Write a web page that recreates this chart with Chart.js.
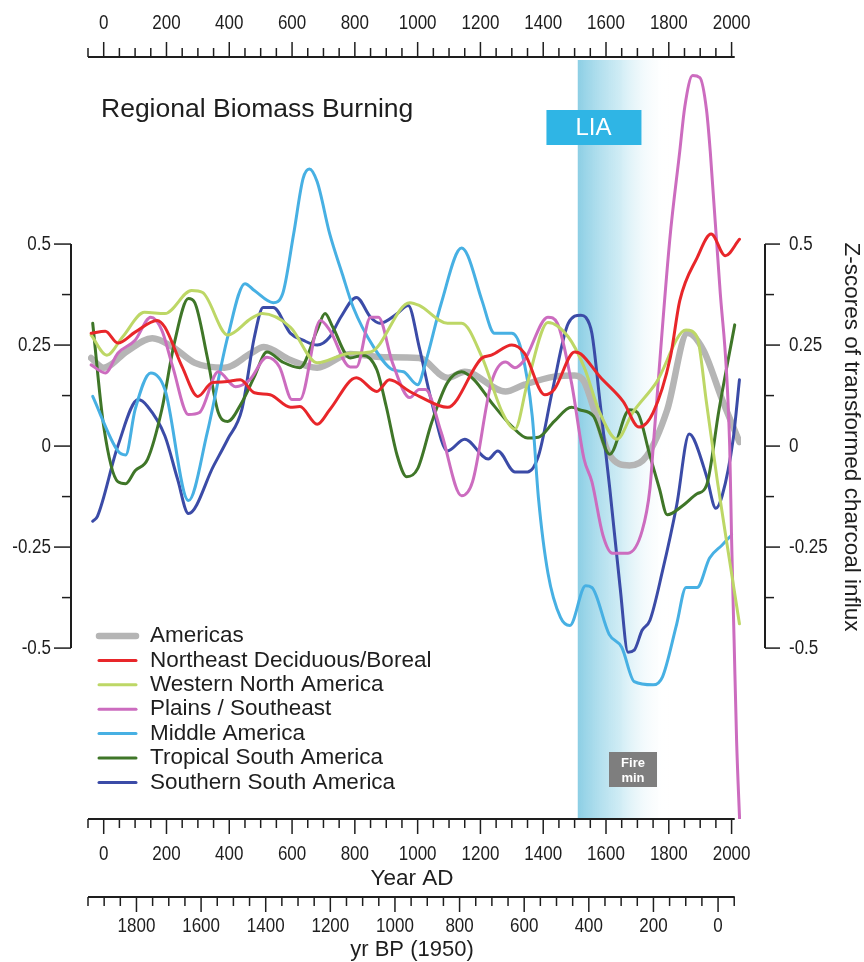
<!DOCTYPE html>
<html>
<head>
<meta charset="utf-8">
<title>Regional Biomass Burning</title>
<script src="https://cdn.jsdelivr.net/npm/chart.js@4.4.1/dist/chart.umd.min.js"></script>
<style>
  html, body { margin: 0; padding: 0; background: #fff; }
  #chart-box { position: relative; width: 864px; height: 962px; }
</style>
</head>
<body>
<div id="chart-box"><canvas id="burning-chart"></canvas></div>
<script>
// [year AD, z-score] pairs for each region
var americas = [[-40,0.218],[0,0.194],[75,0.235],[155,0.267],[220,0.245],[290,0.206],[385,0.194],[470,0.23],[510,0.245],[595,0.213],[680,0.194],[785,0.228],[890,0.22],[1005,0.218],[1095,0.169],[1150,0.184],[1280,0.135],[1340,0.152],[1435,0.172],[1500,0.175],[1530,0.16],[1570,0.07],[1610,-0.02],[1675,-0.048],[1730,-0.024],[1795,0.09],[1860,0.28],[1910,0.238],[1970,0.115],[2025,0.01]];

var northeastBoreal = [[-40,0.279],[5,0.284],[45,0.255],[100,0.282],[170,0.311],[195,0.294],[250,0.196],[300,0.123],[345,0.157],[385,0.159],[435,0.164],[480,0.132],[530,0.127],[595,0.096],[625,0.098],[680,0.054],[720,0.09],[805,0.169],[870,0.135],[910,0.164],[975,0.135],[1005,0.123],[1095,0.096],[1205,0.218],[1235,0.225],[1300,0.25],[1340,0.23],[1405,0.127],[1435,0.14],[1500,0.233],[1520,0.228],[1580,0.172],[1655,0.11],[1705,0.047],[1750,0.083],[1805,0.22],[1835,0.36],[1890,0.466],[1935,0.525],[1980,0.471],[2025,0.512]];

var westernNorthAmerica = [[-40,0.275],[10,0.225],[60,0.27],[130,0.331],[195,0.328],[280,0.385],[315,0.38],[395,0.275],[470,0.316],[505,0.328],[595,0.294],[680,0.206],[785,0.23],[850,0.233],[975,0.355],[1005,0.348],[1095,0.304],[1140,0.304],[1205,0.22],[1270,0.083],[1310,0.042],[1350,0.157],[1415,0.306],[1480,0.27],[1530,0.196],[1580,0.083],[1635,0.017],[1685,0.083],[1760,0.157],[1855,0.287],[1890,0.27],[1920,0.108],[1955,-0.088],[1990,-0.265],[2025,-0.44]];

var plainsSoutheast = [[-40,0.201],[5,0.181],[45,0.23],[100,0.262],[150,0.319],[185,0.287],[220,0.196],[270,0.078],[305,0.083],[365,0.184],[420,0.147],[465,0.164],[520,0.22],[560,0.196],[600,0.115],[625,0.115],[690,0.311],[720,0.287],[785,0.196],[805,0.196],[850,0.319],[875,0.319],[920,0.206],[975,0.12],[1005,0.14],[1025,0.14],[1075,0.034],[1140,-0.123],[1175,-0.088],[1235,0.157],[1280,0.208],[1310,0.194],[1340,0.213],[1415,0.319],[1445,0.304],[1490,0.157],[1530,-0.032],[1555,-0.088],[1590,-0.22],[1620,-0.265],[1670,-0.265],[1715,-0.21],[1740,-0.105],[1752,0.015],[1803,0.51],[1835,0.73],[1851,0.84],[1876,0.917],[1899,0.912],[1920,0.833],[1932,0.73],[1962,0.4],[1994,0.0],[2000,-0.23],[2008,-0.48],[2016,-0.73],[2026,-0.933]];

var middleAmerica = [[-35,0.123],[45,-0.012],[70,-0.022],[100,0.09],[150,0.181],[195,0.14],[270,-0.135],[330,0.034],[395,0.27],[450,0.402],[480,0.385],[540,0.355],[570,0.377],[605,0.525],[635,0.662],[655,0.686],[680,0.654],[720,0.525],[760,0.426],[795,0.343],[860,0.245],[920,0.189],[955,0.184],[1000,0.152],[1025,0.206],[1075,0.353],[1140,0.49],[1160,0.471],[1205,0.36],[1245,0.279],[1300,0.279],[1330,0.238],[1365,0.074],[1385,-0.13],[1415,-0.314],[1455,-0.424],[1485,-0.444],[1535,-0.346],[1555,-0.35],[1610,-0.466],[1650,-0.498],[1690,-0.583],[1750,-0.591],[1780,-0.571],[1825,-0.441],[1855,-0.35],[1890,-0.35],[1930,-0.277],[1970,-0.245],[2000,-0.22]];

var tropicalSouthAmerica = [[-35,0.304],[0,0.049],[45,-0.088],[70,-0.093],[100,-0.061],[140,-0.032],[185,0.09],[225,0.255],[270,0.365],[290,0.355],[330,0.22],[365,0.083],[395,0.061],[440,0.108],[480,0.172],[520,0.233],[570,0.208],[625,0.194],[680,0.287],[705,0.328],[730,0.294],[785,0.218],[825,0.225],[870,0.189],[900,0.098],[935,-0.024],[965,-0.076],[1000,-0.056],[1045,0.059],[1095,0.157],[1140,0.184],[1180,0.164],[1235,0.108],[1300,0.049],[1350,0.02],[1385,0.022],[1435,0.061],[1490,0.096],[1515,0.09],[1560,0.074],[1612,-0.02],[1675,0.09],[1700,0.083],[1740,-0.024],[1770,-0.105],[1795,-0.17],[1845,-0.147],[1890,-0.118],[1920,-0.098],[1960,0.09],[2010,0.3]];

var southernSouthAmerica = [[-35,-0.186],[-20,-0.174],[45,0.0],[110,0.115],[140,0.098],[195,0.025],[235,-0.081],[270,-0.167],[350,-0.049],[395,0.017],[440,0.09],[480,0.27],[508,0.343],[540,0.343],[595,0.279],[635,0.262],[680,0.25],[720,0.27],[755,0.319],[805,0.368],[850,0.319],[880,0.304],[935,0.328],[970,0.348],[1005,0.245],[1045,0.108],[1095,-0.012],[1150,0.017],[1225,-0.032],[1255,-0.012],[1310,-0.064],[1350,-0.064],[1385,-0.024],[1430,0.14],[1480,0.304],[1520,0.324],[1535,0.319],[1555,0.279],[1580,0.115],[1612,-0.105],[1645,-0.35],[1670,-0.51],[1690,-0.505],[1715,-0.456],[1740,-0.431],[1780,-0.309],[1825,-0.147],[1865,0.03],[1880,0.017],[1920,-0.074],[1950,-0.154],[1970,-0.123],[2005,0.017],[2025,0.164]];

var seriesNames = ['Americas', 'Northeast Deciduous/Boreal', 'Western North America', 'Plains / Southeast',
  'Middle America', 'Tropical South America', 'Southern South America'];
var seriesColors = ['#b5b5b5', '#e8262a', '#bdd766', '#cc6cbf', '#47b0e3', '#3f7628', '#3b4ba7'];
var seriesWidths = [6.5, 3, 3, 3, 3, 3, 3];

var adTickLabels = [0, 200, 400, 600, 800, 1000, 1200, 1400, 1600, 1800, 2000];
var bpTickLabels = [1800, 1600, 1400, 1200, 1000, 800, 600, 400, 200, 0];
var zTickLabels = [0.5, 0.25, 0, -0.25, -0.5];

// Little Ice Age band and fire minimum note (years AD)
var liaStart = 1510;
var liaFadeEnd = 1800;
var liaLabelYear = 1560;
var fireMinYear = 1686;

var ink = '#1e1e1e';
var sans = '"Liberation Sans", Arial, Helvetica, sans-serif';

function toPoints(pairs) {
  return pairs.map(function (p) { return { x: p[0], y: p[1] }; });
}

function drawText(ctx, text, x, y, size, align, squeeze, weight, color) {
  ctx.save();
  ctx.translate(x, y);
  if (squeeze) ctx.scale(squeeze, 1);
  ctx.font = (weight || 'normal') + ' ' + size + 'px ' + sans;
  ctx.fillStyle = color || ink;
  ctx.textAlign = align;
  ctx.textBaseline = 'middle';
  ctx.fillText(text, 0, 0);
  ctx.restore();
}

// horizontal year axis: line, 50-yr ticks (long every 200), labels
function drawYearAxis(ctx, scale, lineY, dir, from, to, labels, labelY, x0, x1) {
  ctx.strokeStyle = ink;
  ctx.lineWidth = 2;
  ctx.beginPath();
  ctx.moveTo(x0, lineY);
  ctx.lineTo(x1, lineY);
  ctx.stroke();
  ctx.lineWidth = 1.5;
  for (var v = from; v <= to; v += 50) {
    var px = scale.getPixelForValue(v);
    var len = v % 200 === 0 ? 15 : 9;
    ctx.beginPath();
    ctx.moveTo(px, lineY);
    ctx.lineTo(px, lineY + dir * len);
    ctx.stroke();
  }
  labels.forEach(function (v) {
    drawText(ctx, String(v), scale.getPixelForValue(v), labelY, 20, 'center', 0.85);
  });
}

// vertical z-score axis, only spanning -0.5 .. 0.5
function drawZAxis(ctx, yScale, lineX, dir, majorLen, labelX, align) {
  var top = yScale.getPixelForValue(0.5);
  var bottom = yScale.getPixelForValue(-0.5);
  ctx.strokeStyle = ink;
  ctx.lineWidth = 2;
  ctx.beginPath();
  ctx.moveTo(lineX, top);
  ctx.lineTo(lineX, bottom);
  ctx.stroke();
  ctx.lineWidth = 1.5;
  for (var k = -4; k <= 4; k++) {
    var py = yScale.getPixelForValue(k * 0.125);
    var len = k % 2 === 0 ? majorLen : 9;
    ctx.beginPath();
    ctx.moveTo(lineX, py);
    ctx.lineTo(lineX + dir * len, py);
    ctx.stroke();
  }
  zTickLabels.forEach(function (v) {
    drawText(ctx, String(v), labelX, yScale.getPixelForValue(v), 20, align, 0.85);
  });
}

var paperLayout = {
  id: 'paperLayout',
  beforeDatasetsDraw: function (chart) {
    var ctx = chart.ctx;
    var xs = chart.scales.x;
    var area = chart.chartArea;
    var x0 = xs.getPixelForValue(liaStart);
    var x1 = xs.getPixelForValue(liaFadeEnd);
    var grad = ctx.createLinearGradient(x0, 0, x1, 0);
    grad.addColorStop(0, 'rgba(120,198,224,0.85)');
    grad.addColorStop(0.45, 'rgba(172,222,237,0.6)');
    grad.addColorStop(1, 'rgba(255,255,255,0)');
    ctx.save();
    ctx.fillStyle = grad;
    ctx.fillRect(x0, area.top + 3, x1 - x0, area.bottom - area.top - 4);
    ctx.restore();
  },
  afterDatasetsDraw: function (chart) {
    var ctx = chart.ctx;
    var xs = chart.scales.x;
    var bp = chart.scales.xBP;
    var ys = chart.scales.y;
    var area = chart.chartArea;
    var axisLeft = xs.getPixelForValue(-50);
    var axisRight = xs.getPixelForValue(2010);
    ctx.save();

    // year axes: AD on top and bottom, BP below
    drawYearAxis(ctx, xs, area.top, -1, -50, 2000, adTickLabels, 23, axisLeft, axisRight);
    drawYearAxis(ctx, xs, area.bottom, 1, -50, 2000, adTickLabels, 854, axisLeft, axisRight);
    drawYearAxis(ctx, bp, 897, 1, -50, 1950, bpTickLabels, 926, axisLeft, axisRight);
    drawText(ctx, 'Year AD', 412, 879, 22.5, 'center');
    drawText(ctx, 'yr BP (1950)', 412, 950, 22, 'center');

    // z-score axes on both sides
    drawZAxis(ctx, ys, 71, -1, 17, 51, 'right');
    drawZAxis(ctx, ys, 765, 1, 15, 789, 'left');
    ctx.save();
    ctx.translate(851, 437);
    ctx.rotate(Math.PI / 2);
    drawText(ctx, 'Z-scores of transformed charcoal influx', 0, 0, 22.5, 'center');
    ctx.restore();

    drawText(ctx, 'Regional Biomass Burning', 101, 110, 26.5, 'left');

    // LIA tag
    var lx = xs.getPixelForValue(liaLabelYear);
    ctx.fillStyle = '#2fb5e5';
    ctx.fillRect(lx - 47, 110, 95, 35);
    drawText(ctx, 'LIA', lx, 128, 24, 'center', 0, 'normal', '#ffffff');

    // fire minimum tag
    var fx = xs.getPixelForValue(fireMinYear);
    ctx.fillStyle = '#7e7e7e';
    ctx.fillRect(fx - 24, 752, 48, 35);
    drawText(ctx, 'Fire', fx, 763, 13, 'center', 0, 'bold', '#ffffff');
    drawText(ctx, 'min', fx, 778, 13, 'center', 0, 'bold', '#ffffff');

    // legend
    chart.data.datasets.forEach(function (ds, i) {
      var ly = 636 + i * 24.4;
      ctx.strokeStyle = ds.borderColor;
      ctx.lineWidth = ds.borderWidth;
      ctx.lineCap = 'round';
      ctx.beginPath();
      ctx.moveTo(99, ly);
      ctx.lineTo(136, ly);
      ctx.stroke();
      drawText(ctx, ds.label, 150, ly, 22.5, 'left');
    });
    ctx.restore();
  }
};

var allSeries = [americas, northeastBoreal, westernNorthAmerica, plainsSoutheast,
  middleAmerica, tropicalSouthAmerica, southernSouthAmerica];

var datasets = allSeries.map(function (pairs, i) {
  return {
    label: seriesNames[i],
    data: toPoints(pairs),
    borderColor: seriesColors[i],
    borderWidth: seriesWidths[i],
    order: i === 0 ? 2 : 1,
    borderCapStyle: 'round',
    borderJoinStyle: 'round'
  };
});

var burningChart = new Chart(document.getElementById('burning-chart'), {
  type: 'line',
  data: { datasets: datasets },
  options: {
    responsive: true,
    maintainAspectRatio: false,
    animation: false,
    layout: { padding: { left: 88, right: 123, top: 57, bottom: 143 } },
    elements: {
      point: { radius: 0 },
      line: { cubicInterpolationMode: 'monotone' }
    },
    scales: {
      x: { type: 'linear', min: -50, max: 2030, display: false },
      xBP: { type: 'linear', axis: 'x', min: -71, max: 1950, reverse: true, display: false },
      y: { type: 'linear', min: -0.923, max: 0.963, display: false }
    },
    plugins: {
      legend: { display: false },
      tooltip: { enabled: false }
    }
  },
  plugins: [paperLayout]
});
</script>
</body>
</html>
